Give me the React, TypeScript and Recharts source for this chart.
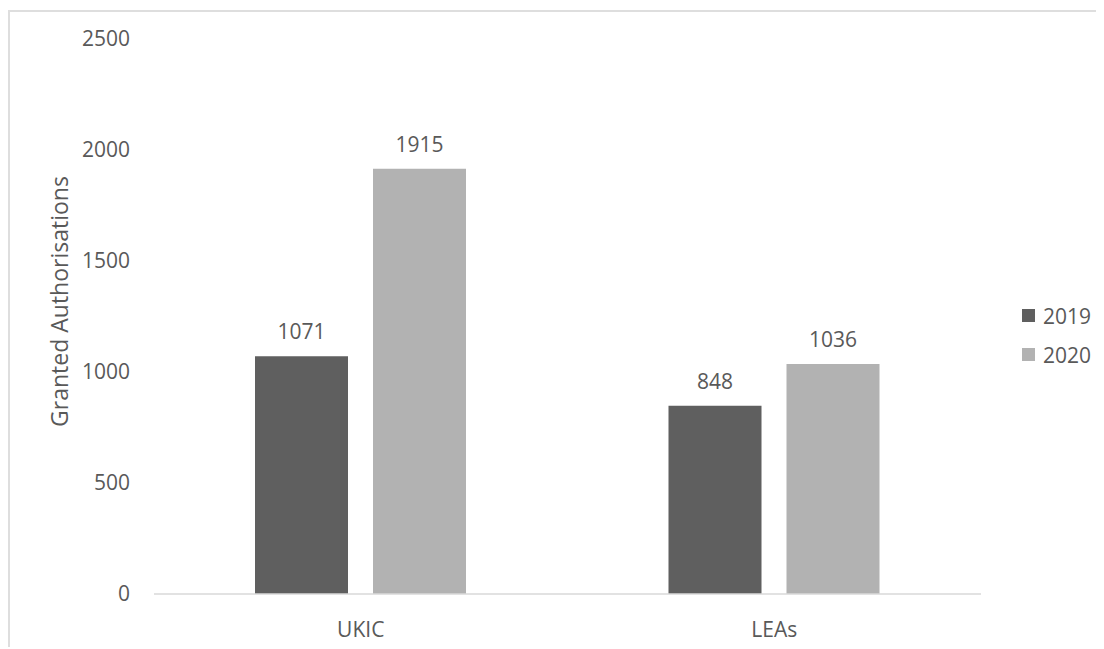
import { BarChart, Bar, XAxis, YAxis, Legend, LabelList } from "recharts";

const categories = ["UKIC", "LEAs"];
const values2019 = [1071, 848];
const values2020 = [1915, 1036];
const yTicks = [0, 500, 1000, 1500, 2000, 2500];

const COLORS = { y2019: "#5f5f5f", y2020: "#b2b2b2" };
const TEXT = "#595959";
const FONT = "'Open Sans', sans-serif";

const data = categories.map((c, i) => ({
  name: c,
  "2019": values2019[i],
  "2020": values2020[i],
}));

function LegendBox({ payload }: any) {
  return (
    <div style={{ fontFamily: FONT, fontSize: 21, color: TEXT }}>
      {(payload || []).map((p: any) => (
        <div key={p.value} style={{ display: "flex", alignItems: "center", height: 39 }}>
          <span style={{ width: 13, height: 13, background: p.color, marginRight: 8, display: "inline-block" }} />
          <span>{p.value}</span>
        </div>
      ))}
    </div>
  );
}

export default function App() {
  return (
    <div
      style={{
        position: "relative",
        top: 2,
        width: 1094,
        height: 637,
        borderTop: "2px solid #dedede",
        borderLeft: "2px solid #dedede",
        background: "#fff",
      }}
    >
      <BarChart
        width={1094}
        height={637}
        data={data}
        margin={{ top: 27, right: 123, bottom: 25, left: 0 }}
        barSize={93}
        barGap={25}
        style={{ fontFamily: FONT }}
      >
        <XAxis
          dataKey="name"
          axisLine={{ stroke: "#d9d9d9", strokeWidth: 1.5 }}
          tickLine={false}
          tickMargin={22}
          tick={{ fill: TEXT, fontSize: 21 }}
        />
        <YAxis
          width={144}
          domain={[0, 2500]}
          ticks={yTicks}
          axisLine={false}
          tickLine={false}
          tickMargin={18}
          tick={{ fill: TEXT, fontSize: 21 }}
          label={{
            value: "Granted Authorisations",
            angle: -90,
            position: "center",
            dx: -22,
            dy: -15,
            fill: TEXT,
            fontSize: 23,
          }}
        />
        <Legend
          layout="horizontal"
          verticalAlign="middle"
          align="center"
          content={LegendBox}
          wrapperStyle={{ left: 1012, top: 284, width: 80 }}
        />
        <Bar dataKey="2019" fill={COLORS.y2019} isAnimationActive={false}>
          <LabelList dataKey="2019" position="top" offset={17} fill={TEXT} fontSize={21} />
        </Bar>
        <Bar dataKey="2020" fill={COLORS.y2020} isAnimationActive={false}>
          <LabelList dataKey="2020" position="top" offset={17} fill={TEXT} fontSize={21} />
        </Bar>
      </BarChart>
    </div>
  );
}
